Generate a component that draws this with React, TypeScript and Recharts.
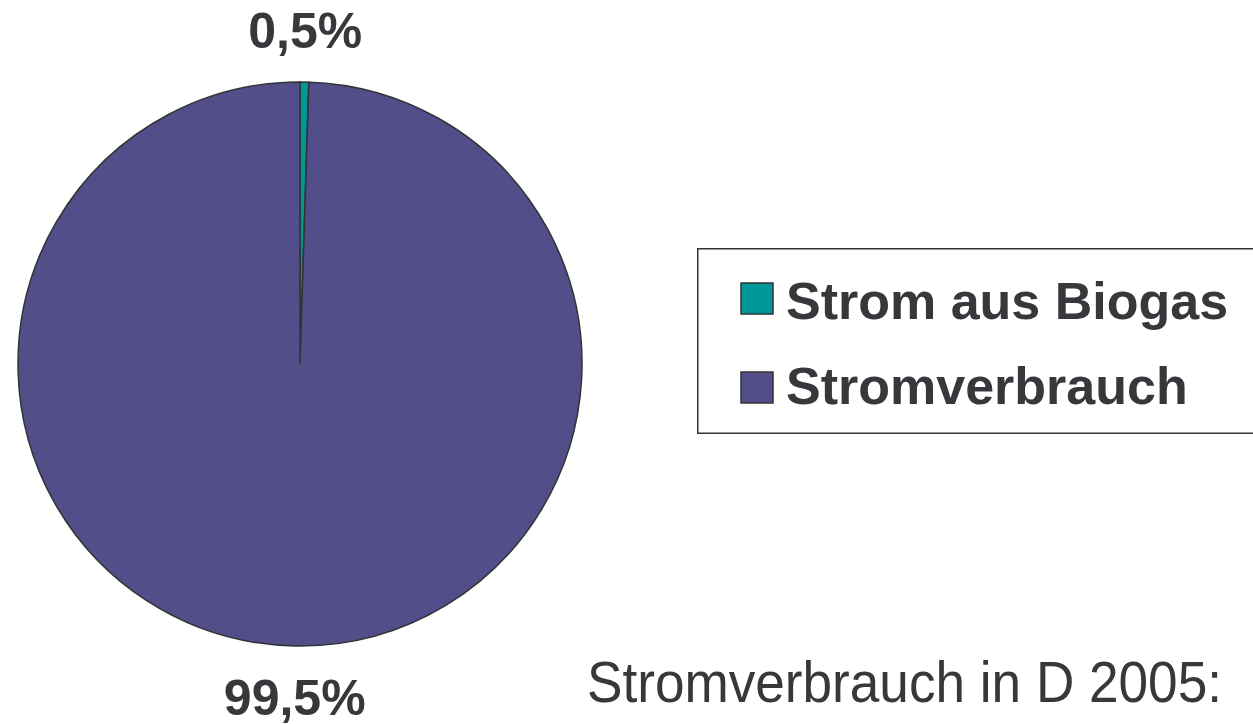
import React from 'react';
import { PieChart, Pie, Cell, Legend } from 'recharts';

const categories = ['Strom aus Biogas', 'Stromverbrauch'];
const shares = [0.5, 99.5];
const colors = ['#00979B', '#524E8A'];
const caption = 'Stromverbrauch in D 2005:';

const data = categories.map((name, i) => ({ name, value: shares[i] }));

const FONT = '"Liberation Sans", Arial, Helvetica, sans-serif';
const TEXT = '#38373C';
const RAD = Math.PI / 180;

const renderLabel = (props: any) => {
  const { cx, cy, midAngle, value } = props;
  const R = 334;
  const x = cx + R * Math.cos(-midAngle * RAD);
  const y = cy + R * Math.sin(-midAngle * RAD);
  const txt = Number(value).toFixed(1).replace('.', ',') + '%';
  return (
    <text
      x={x}
      y={y}
      dy={17.5}
      textAnchor="middle"
      fontFamily={FONT}
      fontWeight="bold"
      fontSize={50}
      fill={TEXT}
    >
      {txt}
    </text>
  );
};

const LegendBox = (props: any) => {
  const payload = props.payload || [];
  return (
    <svg width={570} height={186} style={{ display: 'block' }}>
      <rect x={0.75} y={0.75} width={600} height={184.5} fill="#fff" stroke="#333" strokeWidth={1.5} />
      {payload.map((p: any, i: number) => (
        <g key={i}>
          <rect x={44} y={35 + i * 89} width={32} height={31} fill={p.color} stroke="#333" strokeWidth={1.5} />
          <text
            x={89}
            y={71 + i * 85}
            fontFamily={FONT}
            fontWeight="bold"
            fontSize={52}
            fill={TEXT}
          >
            {p.value}
          </text>
        </g>
      ))}
    </svg>
  );
};

export default function App() {
  return (
    <div style={{ position: 'absolute', left: 0, top: 0, width: 1253, height: 724, overflow: 'hidden', background: '#fff' }}>
      <PieChart width={1253} height={724} margin={{ top: 0, right: 0, bottom: 0, left: 0 }}>
        <Pie
          data={data}
          dataKey="value"
          nameKey="name"
          cx={300}
          cy={364}
          outerRadius={282}
          startAngle={90}
          endAngle={-270}
          stroke="#333"
          strokeWidth={1.5}
          label={renderLabel}
          labelLine={false}
          isAnimationActive={false}
        >
          {data.map((d, i) => (
            <Cell key={d.name} fill={colors[i]} />
          ))}
        </Pie>
        <Legend
          layout="vertical"
          align="right"
          verticalAlign="top"
          content={LegendBox}
          wrapperStyle={{ position: 'absolute', left: 697, top: 248, width: 570, height: 186, right: 'auto', bottom: 'auto' }}
        />
      </PieChart>
      <svg width={1253} height={724} style={{ position: 'absolute', left: 0, top: 0, pointerEvents: 'none' }}>
        <text
          x={587}
          y={702}
          fontFamily={FONT}
          fontSize={57}
          fill={TEXT}
          textLength={635}
          lengthAdjust="spacingAndGlyphs"
        >
          {caption}
        </text>
      </svg>
    </div>
  );
}
